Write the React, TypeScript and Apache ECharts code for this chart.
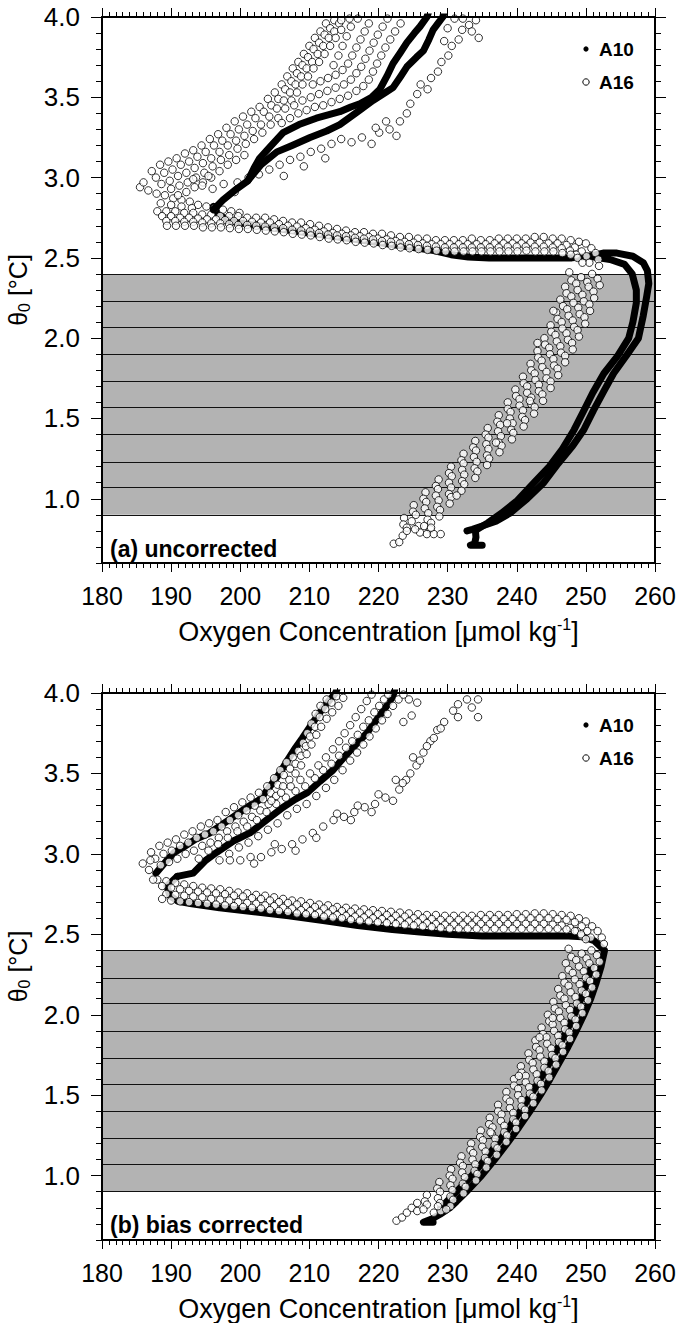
import React, { useEffect, useRef } from 'react';
import * as echarts from 'echarts';

// ---------- axes / layout values ----------
const X_MIN = 180;
const X_MAX = 260;
const X_STEP = 10;
const Y_MIN = 0.6;
const Y_MAX = 4.0;
const Y_MAJOR = [1.0, 1.5, 2.0, 2.5, 3.0, 3.5, 4.0];
const BAND = [0.9, 2.4];
const BAND_LINES = [0.9, 1.067, 1.233, 1.4, 1.567, 1.733, 1.9, 2.067, 2.233, 2.4];
const PANEL_LABELS = ['(a) uncorrected', '(b) bias corrected'];
const LEGEND_NAMES = ['A10', 'A16'];

// ---------- panel (a) uncorrected : A10 (filled dots, dense -> thick trace) ----------
const A10_A_UP1 = [[196.1,2.80],[197.5,2.86],[199.5,2.93],[201.1,2.98],[202.0,3.06],[202.8,3.12],[204.5,3.20],[206.2,3.28],[208.5,3.33],[211.0,3.37],[214.4,3.41],[216.0,3.44],[217.3,3.46],[219.0,3.50],[220.2,3.55],[221.2,3.63],[222.1,3.71],[223.2,3.78],[224.1,3.84],[225.2,3.90],[226.0,3.94],[227.0,4.00],[227.4,4.05]];
const A10_A_UP2 = [[201.1,2.98],[203.0,3.08],[205.3,3.16],[207.5,3.20],[210.1,3.25],[212.5,3.29],[214.4,3.33],[216.0,3.38],[217.3,3.42],[219.2,3.48],[221.0,3.53],[222.1,3.56],[223.2,3.63],[224.1,3.69],[225.5,3.75],[226.5,3.79],[227.3,3.86],[227.9,3.92],[228.6,3.96],[229.3,4.00],[229.6,4.05]];
const A10_A_MAIN = [[196.1,2.82],[196.8,2.77],[198.5,2.73],[201.0,2.71],[205.0,2.685],[210.0,2.655],[215.0,2.625],[220.0,2.595],[225.0,2.565],[228.0,2.545],[230.5,2.52],[233.0,2.505],[236.0,2.50],[240.0,2.50],[244.4,2.50],[248.0,2.50],[250.5,2.51],[252.5,2.53],[254.5,2.53],[256.8,2.51],[258.3,2.47],[258.9,2.42],[259.1,2.34],[258.8,2.26],[258.3,2.14],[257.6,2.00],[256.0,1.90],[254.0,1.78],[252.6,1.67],[251.1,1.55],[249.7,1.43],[248.1,1.33],[246.0,1.22],[243.9,1.10],[241.5,1.00],[239.0,0.91],[237.0,0.86],[235.0,0.83],[233.6,0.81],[232.8,0.80]];
const A10_A_INNER = [[250.5,2.51],[253.5,2.49],[255.6,2.46],[256.7,2.40],[257.3,2.30],[257.3,2.22],[256.8,2.10],[256.2,2.00],[254.6,1.89],[252.6,1.78],[251.0,1.66],[249.6,1.54],[248.3,1.43],[246.6,1.31],[244.7,1.20],[242.5,1.10],[240.1,0.99],[237.8,0.91],[235.8,0.85],[234.3,0.81]];
const A10_A_HOOK = [[234.0,0.81],[234.1,0.76],[233.9,0.72],[233.3,0.71],[235.0,0.71]];

// ---------- panel (a) : A16 (open circles) ----------
const A16_A_Z = [
  [185.5,2.94],[186.7,2.92],[187.9,2.90],[189.1,2.89],[190.3,2.87],[191.5,2.86],[192.7,2.85],[193.9,2.83],[195.1,2.82],[196.3,2.81],[197.5,2.80],[198.7,2.79],[199.9,2.78],[188.5,2.84],[190.0,2.83],[191.5,2.82],[193.0,2.81],
  [188.0,2.79],[189.3,2.79],[190.6,2.79],[191.9,2.78],[193.2,2.78],[194.5,2.77],[195.8,2.77],[197.1,2.76],[198.4,2.76],[199.7,2.76],[201.0,2.75],[202.3,2.75],[203.6,2.75],[204.9,2.74],[206.2,2.73],[207.5,2.72],[208.8,2.72],[210.1,2.71],[211.4,2.70],[212.7,2.69],[214.0,2.68],[215.3,2.67],[216.6,2.66],[217.9,2.66],[219.2,2.65],[220.5,2.65],[221.8,2.64],[223.1,2.63],[224.4,2.63],[225.7,2.62],[227.0,2.62],[228.3,2.61],[229.6,2.61],[230.9,2.61],[232.2,2.61],[233.5,2.62],[234.8,2.61],[236.1,2.61],[237.4,2.62],[238.7,2.62],[240.0,2.62],[241.3,2.62],[242.6,2.63],[243.9,2.63],[245.2,2.62],[246.5,2.62],[247.8,2.61],[249.0,2.60],[250.0,2.59],[250.8,2.56],[251.4,2.53],[251.8,2.49],[251.9,2.45],
  [188.7,2.76],[190.0,2.76],[191.3,2.75],[192.6,2.75],[193.9,2.745],[195.2,2.74],[196.5,2.74],[197.8,2.735],[199.1,2.73],[200.4,2.73],[201.7,2.725],[203.0,2.72],[204.3,2.72],[205.6,2.71],[206.9,2.70],[208.2,2.695],[209.5,2.685],[210.8,2.675],[212.1,2.665],[213.4,2.655],[214.7,2.65],[216.0,2.64],[217.3,2.635],[218.6,2.63],[219.9,2.62],[221.2,2.615],[222.5,2.605],[223.8,2.60],[225.1,2.595],[226.4,2.59],[227.7,2.585],[229.0,2.585],[230.3,2.585],[231.6,2.585],[232.9,2.585],[234.2,2.585],[235.5,2.585],[236.8,2.59],[238.1,2.59],[239.4,2.59],[240.7,2.59],[242.0,2.595],[243.3,2.595],[244.6,2.59],[245.9,2.59],[247.2,2.58],[248.4,2.565],[249.4,2.54],[250.1,2.51],[250.5,2.47],
  [189.3,2.73],[190.6,2.73],[191.9,2.725],[193.2,2.725],[194.5,2.72],[195.8,2.715],[197.1,2.715],[198.4,2.71],[199.7,2.705],[201.0,2.705],[202.3,2.70],[203.6,2.695],[204.9,2.69],[206.2,2.685],[207.5,2.675],[208.8,2.67],[210.1,2.665],[211.4,2.655],[212.7,2.645],[214.0,2.64],[215.3,2.635],[216.6,2.625],[217.9,2.62],[219.2,2.615],[220.5,2.605],[221.8,2.60],[223.1,2.59],[224.4,2.585],[225.7,2.58],[227.0,2.575],[228.3,2.57],[229.6,2.565],[230.9,2.565],[232.2,2.565],[233.5,2.565],[234.8,2.565],[236.1,2.565],[237.4,2.565],[238.7,2.57],[240.0,2.57],[241.3,2.57],[242.6,2.57],[243.9,2.57],[245.2,2.565],[246.5,2.56],[247.7,2.545],[248.6,2.52],
  [189.4,2.70],[190.7,2.70],[192.0,2.70],[193.3,2.70],[194.6,2.69],[195.9,2.69],[197.2,2.69],[198.5,2.685],[199.8,2.68],[201.1,2.68],[202.4,2.675],[203.7,2.67],[205.0,2.665],[206.3,2.66],[207.6,2.65],[208.9,2.645],[210.2,2.64],[211.5,2.63],[212.8,2.62],[214.1,2.615],[215.4,2.61],[216.7,2.60],[218.0,2.595],[219.3,2.59],[220.6,2.58],[221.9,2.575],[223.2,2.565],[224.5,2.56],[225.8,2.555],[227.1,2.55],[228.4,2.545],[229.7,2.54],[231.0,2.54],[232.3,2.54],[233.6,2.54],[234.9,2.54],[236.2,2.54],[237.5,2.54],[238.8,2.54],[240.1,2.54],[241.4,2.545],[242.7,2.54],[244.0,2.54],[245.3,2.54],[246.6,2.53],[247.8,2.52],[248.8,2.50],[249.5,2.47]
];
const A16_A_DESC = [
  [247.6,2.41],[250.9,2.40],[249.3,2.38],[251.7,2.37],[247.9,2.36],[250.2,2.35],[248.6,2.34],[252.0,2.33],
  [247.0,2.32],[250.4,2.32],[248.8,2.30],[251.1,2.29],[247.2,2.28],[249.5,2.27],[247.9,2.26],[251.2,2.25],
  [246.3,2.24],[249.7,2.23],[248.2,2.22],[250.5,2.21],[246.7,2.20],[248.9,2.19],[247.3,2.18],[250.6,2.17],
  [245.7,2.16],[249.1,2.15],[247.5,2.14],[249.8,2.13],[245.9,2.12],[248.1,2.11],[246.5,2.10],[249.9,2.09],
  [244.9,2.08],[248.3,2.07],[246.6,2.06],[248.8,2.05],[245.0,2.04],[247.2,2.03],[245.6,2.02],[249.0,2.01],
  [244.0,2.00],[247.4,1.99],[245.8,1.98],[248.0,1.97],[244.1,1.96],[246.3,1.95],[244.7,1.94],[248.1,1.93],
  [243.0,1.92],[246.4,1.91],[244.8,1.90],[247.0,1.89],[243.1,1.88],[245.3,1.87],[243.6,1.86],[247.0,1.85],
  [242.0,1.84],[245.4,1.83],[243.7,1.82],[245.9,1.81],[242.1,1.80],[244.3,1.79],[242.6,1.78],[246.0,1.77],
  [240.9,1.76],[244.3,1.75],[242.7,1.74],[244.9,1.73],[241.0,1.72],[243.2,1.71],[241.5,1.70],[244.9,1.69],
  [239.8,1.68],[243.2,1.67],[241.5,1.66],[243.7,1.65],[239.9,1.64],[242.1,1.63],[240.4,1.62],[243.8,1.61],
  [238.7,1.60],[242.1,1.59],[240.4,1.58],[242.6,1.57],[238.7,1.56],[240.9,1.55],[239.1,1.54],[242.5,1.53],
  [237.4,1.52],[240.8,1.51],[239.0,1.50],[241.2,1.49],[237.2,1.48],[239.4,1.47],[237.6,1.46],[241.0,1.45],
  [235.8,1.44],[239.2,1.43],[237.3,1.42],[239.5,1.41],[235.5,1.40],[237.7,1.39],[235.9,1.38],[239.3,1.37],
  [234.0,1.36],[237.4,1.35],[235.6,1.34],[237.8,1.33],[233.7,1.32],[235.9,1.31],[234.1,1.30],[237.5,1.29],
  [232.3,1.28],[235.7,1.27],[233.8,1.26],[236.0,1.25],[232.0,1.24],[234.2,1.23],[232.3,1.22],[235.7,1.21],
  [230.5,1.20],[233.9,1.19],[232.1,1.18],[234.3,1.17],[230.2,1.16],[232.4,1.15],[230.6,1.14],[234.0,1.13],
  [228.7,1.12],[232.1,1.11],[230.2,1.10],[232.4,1.09],[228.3,1.08],[230.5,1.07],[228.6,1.06],[232.0,1.05],
  [226.8,1.04],[230.2,1.03],[228.3,1.02],[230.5,1.01],[226.5,1.00],[228.7,0.99],[226.9,0.98],[230.3,0.97],
  [225.1,0.96],[228.5,0.95],[226.7,0.94],[228.9,0.93],[225.0,0.92],[227.2,0.91],[225.4,0.90],[228.8,0.89],
  [223.7,0.88],[227.1,0.87],[224.8,0.86],[227.6,0.85],[223.6,0.84],[225.8,0.83],[224.1,0.82],[227.5,0.81],
  [245.3,2.17],[241.9,1.61],[243.0,1.97],[238.6,1.47],[231.3,1.02],[237.0,1.35],
  [222.2,0.72],[223.0,0.73],[223.5,0.77],[224.1,0.80],[226.0,0.79],[227.0,0.78],[228.0,0.78],[229.0,0.78],[226.6,0.83],[227.6,0.82],[225.3,0.81]
];
const A16_A_LEFT = [
  [186.0,2.97],[187.2,3.04],[188.4,3.08],[189.6,3.10],[190.8,3.12],[192.0,3.15],[193.2,3.17],[194.4,3.20],[195.6,3.24],[196.8,3.27],[198.0,3.31],[199.2,3.35],[200.4,3.38],[201.6,3.41],[202.8,3.44],[204.0,3.49],[205.0,3.53],[206.0,3.58],[206.8,3.63],[207.6,3.68],[208.4,3.72],[209.2,3.77],[210.0,3.82],[210.8,3.87],[211.6,3.91],[212.4,3.96],
  [187.8,3.00],[189.0,3.03],[190.2,3.05],[191.4,3.08],[192.6,3.10],[193.8,3.13],[195.0,3.16],[196.2,3.20],[197.4,3.23],[198.6,3.27],[199.8,3.30],[201.0,3.33],[202.2,3.37],[203.4,3.41],[204.5,3.45],[205.5,3.49],[206.5,3.55],[207.4,3.60],[208.2,3.65],[209.0,3.70],[209.8,3.75],[210.6,3.80],[211.4,3.84],[212.2,3.89],[213.0,3.93],[213.6,3.98],
  [188.6,2.96],[189.8,2.98],[191.0,3.01],[192.2,3.03],[193.4,3.06],[194.6,3.09],[195.8,3.12],[197.0,3.16],[198.2,3.20],[199.4,3.23],[200.6,3.26],[201.8,3.29],[203.0,3.33],[204.2,3.38],[205.3,3.43],[206.3,3.48],[207.2,3.53],[208.0,3.58],[208.8,3.63],[209.6,3.68],[210.4,3.72],[211.2,3.77],[212.0,3.82],[212.8,3.87],[213.6,3.91],[214.3,3.96],
  [190.0,2.93],[191.2,2.95],[192.4,2.97],[193.6,3.00],[194.8,3.03],[196.0,3.07],[197.2,3.11],[198.4,3.14],[199.6,3.18],[200.8,3.21],[202.0,3.24],[203.2,3.28],[204.4,3.33],[205.5,3.37],[206.5,3.43],[207.4,3.48],[208.2,3.53],[209.0,3.58],[209.8,3.63],[210.6,3.68],[211.4,3.72],[212.2,3.77],[213.0,3.82],[213.8,3.87],[214.6,3.92],
  [191.0,2.89],[192.2,2.91],[193.4,2.94],[194.6,2.97],[195.8,3.00],[197.0,3.04],[198.2,3.08],[199.4,3.11],[200.6,3.14]
];
const A16_A_MID = [
  [206.0,3.34],[207.2,3.37],[208.4,3.40],[209.6,3.42],[210.8,3.44],[212.0,3.45],[213.2,3.47],[214.4,3.49],[215.6,3.51],[216.8,3.54],[217.8,3.57],[218.6,3.61],[219.2,3.66],[219.8,3.71],[220.4,3.76],[221.0,3.81],[221.7,3.86],[222.4,3.91],[223.2,3.96],
  [207.8,3.45],[209.0,3.48],[210.2,3.50],[211.4,3.52],[212.6,3.54],[213.8,3.56],[215.0,3.58],[216.0,3.61],[216.8,3.65],[217.5,3.69],[218.1,3.74],[218.7,3.79],[219.3,3.84],[219.9,3.89],[220.6,3.94],[221.3,3.99],
  [210.5,3.58],[211.6,3.60],[212.7,3.62],[213.8,3.64],[214.8,3.67],[215.6,3.71],[216.2,3.76],[216.8,3.81],[217.4,3.86],[218.0,3.91],[218.6,3.96],
  [214.2,3.76],[214.8,3.82],[215.4,3.88],[216.0,3.94],[214.6,3.98],[215.8,3.99],[213.5,3.70],[217.0,3.99]
];
const A16_A_RIGHT = [
  [194.5,2.95],[196.0,2.93],[197.6,2.96],[199.2,2.91],[193.2,2.99],[195.4,3.01],
  [199.6,2.97],[201.2,3.00],[202.7,3.02],[204.2,3.05],[205.7,3.08],[207.2,3.11],[208.7,3.13],[210.2,3.16],[211.7,3.18],[213.2,3.21],[214.6,3.24],[206.3,3.01],[209.2,3.07],[212.3,3.12],
  [216.1,3.22],[217.6,3.25],[219.0,3.21],[220.1,3.28],[221.6,3.30],[222.6,3.26],[223.1,3.35],[224.1,3.40],[224.6,3.46],[225.6,3.52],[226.1,3.58],[227.1,3.55],[227.6,3.62],[228.6,3.66],[229.1,3.72],[230.1,3.76],[230.6,3.82],[231.6,3.86],[232.1,3.92],[233.1,3.95],[234.1,3.98],[234.5,3.87],[233.5,3.91],[232.2,3.99],[221.1,3.35],[219.6,3.31],[231.0,3.99],[230.0,3.93],[229.5,3.85]
];

// ---------- panel (b) bias corrected : A10 ----------
const A10_B_L = [[187.8,2.88],[189.4,2.96],[190.5,3.01],[191.7,3.04],[193.5,3.09],[195.6,3.13],[197.3,3.18],[199.0,3.23],[201.0,3.29],[202.9,3.34],[204.5,3.43],[205.7,3.50],[206.8,3.58],[208.0,3.66],[209.0,3.72],[210.1,3.79],[211.2,3.86],[212.2,3.92],[213.0,3.96],[213.8,4.00],[214.2,4.05]];
const A10_B_M = [[190.9,2.86],[193.2,2.88],[195.0,2.96],[196.6,3.01],[199.0,3.08],[201.4,3.13],[203.8,3.21],[206.2,3.29],[208.0,3.34],[209.7,3.38],[211.5,3.45],[213.4,3.52],[215.0,3.60],[216.3,3.66],[217.4,3.71],[218.3,3.75],[219.5,3.82],[220.7,3.89],[221.5,3.94],[222.1,3.98],[222.5,4.05]];
const A10_B_MAIN = [[190.9,2.86],[189.4,2.80],[189.8,2.74],[191.0,2.705],[193.0,2.69],[197.0,2.665],[202.0,2.64],[207.0,2.615],[212.0,2.585],[217.0,2.555],[222.0,2.53],[226.0,2.515],[230.0,2.50],[235.0,2.49],[240.0,2.49],[245.0,2.49],[247.5,2.49],[249.5,2.485],[251.2,2.46],[252.7,2.40],[252.2,2.30],[251.5,2.20],[250.7,2.10],[249.7,2.00],[248.6,1.90],[247.4,1.80],[246.1,1.70],[244.8,1.60],[243.4,1.50],[241.9,1.40],[240.3,1.30],[238.6,1.20],[236.8,1.10],[234.9,1.00],[232.7,0.90],[231.3,0.84],[230.3,0.80],[228.9,0.76],[227.7,0.73],[226.5,0.71],[227.9,0.71]];
const A10_B_INNER = [[250.8,2.30],[250.1,2.20],[249.3,2.10],[248.3,2.00],[247.2,1.90],[246.0,1.80],[244.7,1.70],[243.4,1.60],[242.0,1.50],[240.5,1.40],[238.9,1.30],[237.2,1.20],[235.4,1.10],[233.5,1.00],[231.3,0.90],[229.9,0.84],[229.0,0.80]];

// ---------- panel (b) : A16 ----------
const A16_B_Z = [
  [188.0,2.84],[189.3,2.83],[190.6,2.82],[191.9,2.81],[193.2,2.80],[194.5,2.79],[195.8,2.785],[197.1,2.78],[198.4,2.77],[199.7,2.76],[201.0,2.755],[202.3,2.745],[203.6,2.74],[204.9,2.73],[206.2,2.72],[207.5,2.71],[208.8,2.705],[210.1,2.695],[211.4,2.685],[212.7,2.68],[214.0,2.67],[215.3,2.665],[216.6,2.66],[217.9,2.655],[219.2,2.65],[220.5,2.645],[221.8,2.64],[223.1,2.635],[224.4,2.63],[225.7,2.625],[227.0,2.62],[228.3,2.62],[229.6,2.615],[230.9,2.615],[232.2,2.615],[233.5,2.615],[234.8,2.62],[236.1,2.62],[237.4,2.62],[238.7,2.62],[240.0,2.625],[241.3,2.625],[242.6,2.63],[243.9,2.63],[245.2,2.625],[246.5,2.62],[247.8,2.615],[249.0,2.60],[250.0,2.58],[250.9,2.55],[251.7,2.52],[252.3,2.48],[252.6,2.44],
  [188.7,2.80],[190.0,2.79],[191.3,2.78],[192.6,2.77],[193.9,2.765],[195.2,2.76],[196.5,2.755],[197.8,2.75],[199.1,2.74],[200.4,2.735],[201.7,2.725],[203.0,2.72],[204.3,2.71],[205.6,2.70],[206.9,2.695],[208.2,2.685],[209.5,2.675],[210.8,2.67],[212.1,2.66],[213.4,2.655],[214.7,2.645],[216.0,2.64],[217.3,2.635],[218.6,2.63],[219.9,2.625],[221.2,2.62],[222.5,2.615],[223.8,2.61],[225.1,2.60],[226.4,2.60],[227.7,2.595],[229.0,2.59],[230.3,2.59],[231.6,2.59],[232.9,2.59],[234.2,2.59],[235.5,2.595],[236.8,2.595],[238.1,2.595],[239.4,2.595],[240.7,2.60],[242.0,2.60],[243.3,2.60],[244.6,2.60],[245.9,2.595],[247.2,2.59],[248.4,2.575],[249.4,2.55],[250.2,2.52],[250.7,2.48],
  [189.3,2.75],[190.6,2.745],[191.9,2.74],[193.2,2.735],[194.5,2.73],[195.8,2.72],[197.1,2.715],[198.4,2.71],[199.7,2.70],[201.0,2.695],[202.3,2.69],[203.6,2.68],[204.9,2.675],[206.2,2.665],[207.5,2.66],[208.8,2.65],[210.1,2.645],[211.4,2.635],[212.7,2.63],[214.0,2.62],[215.3,2.615],[216.6,2.61],[217.9,2.605],[219.2,2.60],[220.5,2.595],[221.8,2.59],[223.1,2.585],[224.4,2.58],[225.7,2.575],[227.0,2.57],[228.3,2.565],[229.6,2.56],[230.9,2.56],[232.2,2.56],[233.5,2.56],[234.8,2.565],[236.1,2.565],[237.4,2.565],[238.7,2.565],[240.0,2.565],[241.3,2.565],[242.6,2.565],[243.9,2.565],[245.2,2.56],[246.5,2.555],[247.7,2.54],[248.7,2.52],[249.4,2.49],
  [188.7,2.72],[190.0,2.71],[191.3,2.705],[192.6,2.70],[193.9,2.695],[195.2,2.69],[196.5,2.685],[197.8,2.68],[199.1,2.675],[200.4,2.67],[201.7,2.665],[203.0,2.66],[204.3,2.65],[205.6,2.645],[206.9,2.64],[208.2,2.63],[209.5,2.625],[210.8,2.62],[212.1,2.61],[213.4,2.605],[214.7,2.60],[216.0,2.59],[217.3,2.585],[218.6,2.58],[219.9,2.575],[221.2,2.57],[222.5,2.565],[223.8,2.56],[225.1,2.555],[226.4,2.55],[227.7,2.545],[229.0,2.54],[230.3,2.535],[231.6,2.535],[232.9,2.535],[234.2,2.535],[235.5,2.535],[236.8,2.535],[238.1,2.535],[239.4,2.535],[240.7,2.535],[242.0,2.535],[243.3,2.535],[244.6,2.535],[245.9,2.535],[247.2,2.53],[248.4,2.52],[249.3,2.50],[250.0,2.47]
];
const A16_B_DESC = [
  [247.5,2.41],[250.8,2.40],[249.4,2.38],[251.6,2.37],[247.9,2.36],[250.1,2.35],[248.6,2.34],[252.0,2.33],
  [247.1,2.32],[250.5,2.32],[249.0,2.30],[251.2,2.29],[247.5,2.28],[249.7,2.27],[248.1,2.26],[251.5,2.25],
  [246.6,2.24],[250.0,2.23],[248.4,2.22],[250.6,2.21],[246.9,2.20],[249.1,2.19],[247.5,2.18],[250.9,2.17],
  [246.0,2.16],[249.4,2.15],[247.8,2.14],[250.0,2.13],[246.3,2.12],[248.5,2.11],[246.9,2.10],[250.3,2.09],
  [245.3,2.08],[248.7,2.07],[247.1,2.06],[249.3,2.05],[245.5,2.04],[247.7,2.03],[246.1,2.02],[249.5,2.01],
  [244.5,2.00],[247.9,1.99],[246.3,1.98],[248.5,1.97],[244.7,1.96],[246.9,1.95],[245.2,1.94],[248.6,1.93],
  [243.6,1.92],[247.0,1.91],[245.4,1.90],[247.6,1.89],[243.8,1.88],[246.0,1.87],[244.3,1.86],[247.7,1.85],
  [242.7,1.84],[246.1,1.83],[244.4,1.82],[246.6,1.81],[242.8,1.80],[245.0,1.79],[243.3,1.78],[246.7,1.77],
  [241.7,1.76],[245.1,1.75],[243.4,1.74],[245.6,1.73],[241.8,1.72],[244.0,1.71],[242.3,1.70],[245.7,1.69],
  [240.6,1.68],[244.0,1.67],[242.4,1.66],[244.6,1.65],[240.7,1.64],[242.9,1.63],[241.3,1.62],[244.7,1.61],
  [239.6,1.60],[243.0,1.59],[241.3,1.58],[243.5,1.57],[239.6,1.56],[241.8,1.55],[240.2,1.54],[243.6,1.53],
  [238.5,1.52],[241.9,1.51],[240.2,1.50],[242.4,1.49],[238.5,1.48],[240.7,1.47],[239.0,1.46],[242.4,1.45],
  [237.3,1.44],[240.7,1.43],[239.0,1.42],[241.2,1.41],[237.3,1.40],[239.5,1.39],[237.8,1.38],[241.2,1.37],
  [236.1,1.36],[239.5,1.35],[237.7,1.34],[239.9,1.33],[236.0,1.32],[238.2,1.31],[236.5,1.30],[239.9,1.29],
  [234.8,1.28],[238.2,1.27],[236.4,1.26],[238.6,1.25],[234.7,1.24],[236.9,1.23],[235.1,1.22],[238.5,1.21],
  [233.4,1.20],[236.8,1.19],[235.0,1.18],[237.2,1.17],[233.3,1.16],[235.5,1.15],[233.7,1.14],[237.1,1.13],
  [232.0,1.12],[235.4,1.11],[233.6,1.10],[235.8,1.09],[231.8,1.08],[234.0,1.07],[232.2,1.06],[235.6,1.05],
  [230.5,1.04],[233.9,1.03],[232.1,1.02],[234.3,1.01],[230.3,1.00],[232.5,0.99],[230.7,0.98],[234.1,0.97],
  [228.8,0.96],[232.2,0.95],[230.4,0.94],[232.6,0.93],[228.5,0.92],[230.7,0.91],[228.9,0.90],[232.3,0.89],
  [227.0,0.88],[230.4,0.87],[228.6,0.86],[230.8,0.85],[226.7,0.84],[228.9,0.83],[227.0,0.82],[230.4,0.81],
  [245.2,1.98],[240.3,1.62],[236.2,1.27],[243.3,1.86],
  [222.6,0.72],[223.4,0.74],[224.1,0.77],[224.8,0.80],[225.6,0.78],[228.0,0.77],[229.0,0.78],[229.8,0.79],[228.6,0.81],[226.5,0.79],[225.6,0.83]
];
const A16_B_LEFT = [
  [185.9,2.94],[187.1,3.01],[188.3,3.05],[189.5,3.07],[190.7,3.09],[191.9,3.12],[193.1,3.14],[194.3,3.17],[195.5,3.19],[196.7,3.21],[197.9,3.26],[199.1,3.29],[200.3,3.32],[201.5,3.35],[202.7,3.38],[203.9,3.42],[204.9,3.47],[205.8,3.52],[206.7,3.57],[207.6,3.60],[208.4,3.64],[209.1,3.69],[209.7,3.75],[210.3,3.81],[210.9,3.87],[211.6,3.92],[212.5,3.96],
  [187.7,2.97],[188.9,3.00],[190.1,3.02],[191.3,3.05],[192.5,3.07],[193.7,3.10],[194.9,3.12],[196.1,3.14],[197.3,3.17],[198.5,3.21],[199.7,3.24],[200.9,3.27],[202.1,3.30],[203.3,3.34],[204.4,3.38],[205.4,3.43],[206.3,3.49],[207.2,3.53],[208.0,3.56],[208.8,3.61],[209.5,3.67],[210.1,3.73],[210.8,3.79],[211.5,3.85],[212.3,3.90],[213.2,3.94],[213.9,3.98],
  [188.5,2.93],[189.7,2.95],[190.9,2.97],[192.1,3.00],[193.3,3.02],[194.5,3.05],[195.7,3.07],[196.9,3.10],[198.1,3.14],[199.3,3.17],[200.5,3.20],[201.7,3.23],[202.9,3.27],[204.1,3.31],[205.2,3.36],[206.2,3.42],[207.1,3.46],[208.0,3.50],[208.8,3.55],[209.6,3.62],[210.3,3.68],[211.0,3.74],[211.7,3.79],[212.5,3.84],[213.3,3.88],[214.2,3.92],[214.9,3.97],
  [186.8,2.90],[187.4,2.84],[187.0,2.96]
];
const A16_B_MID = [
  [194.0,2.97],[195.4,3.02],[196.8,3.06],[198.2,3.10],[199.6,3.14],[201.0,3.17],[202.4,3.21],[203.8,3.26],[205.2,3.31],[206.6,3.35],[208.0,3.39],[209.4,3.42],[210.8,3.47],[212.0,3.52],[213.2,3.56],[214.3,3.61],[215.3,3.66],[216.2,3.70],[217.0,3.74],[217.8,3.79],[218.6,3.83],[219.4,3.88],[220.1,3.92],[220.8,3.96],[221.4,3.99],
  [197.0,2.96],[198.4,3.00],[199.8,3.04],[201.2,3.07],[202.6,3.11],[204.0,3.15],[205.4,3.19],[206.8,3.24],[208.2,3.28],[209.6,3.31],[211.0,3.36],[212.4,3.41],[213.6,3.46],[214.8,3.52],[215.9,3.58],[216.9,3.63],[217.8,3.68],[218.7,3.73],[219.6,3.78],[220.5,3.83],[221.3,3.87],[222.1,3.92],[222.9,3.96],[223.6,3.99],
  [204.5,3.33],[205.9,3.38],[207.3,3.42],[208.7,3.46],[210.1,3.50],[211.3,3.55],[212.4,3.60],[213.4,3.65],[214.3,3.70],[215.1,3.75],[215.9,3.80],[216.7,3.85],[217.5,3.90],[218.3,3.95],[219.0,3.99],
  [224.4,3.96],[225.6,3.94],[224.8,3.86],[223.6,3.82]
];
const A16_B_RIGHT = [
  [198.5,2.96],[200.0,2.96],[201.5,2.98],[203.0,2.98],[204.5,3.01],[206.0,3.03],[207.5,3.06],[209.0,3.09],[210.5,3.13],[212.0,3.17],[213.5,3.21],[215.0,3.23],[216.5,3.26],[218.0,3.29],[219.5,3.31],[221.0,3.35],[222.1,3.33],[223.0,3.40],[224.0,3.46],[224.6,3.50],[225.5,3.55],[226.5,3.63],[227.5,3.70],[228.5,3.77],[229.5,3.82],[230.8,3.89],[231.5,3.93],[232.8,3.96],[234.4,3.96],[234.4,3.85],[233.5,3.91],[226.0,3.58],[228.0,3.72],[223.5,3.44],[220.0,3.37],[217.0,3.30],[214.0,3.25],[202.0,2.94],[205.0,3.06],[211.0,3.10],[208.0,3.02],[216.0,3.21],[219.0,3.26],[222.5,3.46],[225.0,3.60],[227.0,3.67],[229.0,3.78],[231.5,3.85]
];

// ---------- styling ----------
const FONT = '"Liberation Sans", Arial, Helvetica, sans-serif';
const BLACK = '#000';
const GRAY = '#b3b3b3';
const GRIDS = [
  { left: 102, top: 17, width: 553, height: 546 },
  { left: 102, top: 693, width: 553, height: 547 },
];

function a16(data: number[][], xi: number, yi: number) {
  return {
    type: 'scatter', name: 'A16', xAxisIndex: xi, yAxisIndex: yi, data,
    symbol: 'circle', symbolSize: 7.5, silent: true, z: 10,
    itemStyle: { color: '#fff', borderColor: BLACK, borderWidth: 1 },
  };
}
function a10(data: number[][], xi: number, yi: number, z = 9, extra: any = {}) {
  return {
    type: 'line', name: 'A10', xAxisIndex: xi, yAxisIndex: yi, data,
    symbol: 'none', showSymbol: false, silent: true, z,
    lineStyle: { color: BLACK, width: 7, cap: 'round', join: 'round' },
    ...extra,
  };
}
function bandMarkers() {
  return {
    markArea: {
      silent: true, label: { show: false }, itemStyle: { color: GRAY },
      data: [[{ xAxis: X_MIN, yAxis: BAND[0] }, { xAxis: X_MAX, yAxis: BAND[1] }]],
    },
    markLine: {
      silent: true, symbol: ['none', 'none'], label: { show: false },
      lineStyle: { color: '#111', width: 1, type: 'solid' },
      data: BAND_LINES.map((v) => ({ yAxis: v })),
    },
  };
}

function xAxes(g: number) {
  const common = {
    type: 'value', gridIndex: g, min: X_MIN, max: X_MAX, interval: X_STEP, z: 20,
    axisLine: { show: true, onZero: false, lineStyle: { color: BLACK, width: 2 } },
    axisTick: { show: true, length: 9, lineStyle: { color: BLACK, width: 1 } },
    minorTick: { show: true, splitNumber: 10, length: 5, lineStyle: { color: BLACK, width: 1 } },
    splitLine: { show: false }, minorSplitLine: { show: false },
  };
  return [
    {
      ...common, position: 'bottom',
      axisLabel: { show: true, fontSize: 25, color: BLACK, fontFamily: FONT, margin: 20 },
      name: '{a|Oxygen Concentration [μmol kg}{s|-1}{a|]}',
      nameLocation: 'middle', nameGap: 53,
      nameTextStyle: {
        rich: {
          a: { fontSize: 27, color: BLACK, fontFamily: FONT, lineHeight: 32 },
          s: { fontSize: 16, color: BLACK, fontFamily: FONT, lineHeight: 16, verticalAlign: 'top' },
        },
      },
    },
    { ...common, position: 'top', axisLabel: { show: false } },
  ];
}
function yAxes(g: number) {
  const major = {
    type: 'value', gridIndex: g, min: Y_MIN, max: Y_MAX, z: 20,
    axisLine: { show: true, onZero: false, lineStyle: { color: BLACK, width: 2 } },
    axisTick: { show: true, customValues: Y_MAJOR, length: 11, lineStyle: { color: BLACK, width: 1 } },
    splitLine: { show: false },
  };
  const minor = {
    type: 'value', gridIndex: g, min: Y_MIN, max: Y_MAX, interval: 0.1, z: 20,
    axisLine: { show: false, onZero: false },
    axisTick: { show: true, length: 6, lineStyle: { color: BLACK, width: 1 } },
    axisLabel: { show: false }, splitLine: { show: false },
  };
  return [
    {
      ...major, position: 'left',
      axisLabel: {
        show: true, customValues: Y_MAJOR, fontSize: 26, color: BLACK, fontFamily: FONT, margin: 22,
        formatter: (v: number) => v.toFixed(1),
      },
      name: '{t|θ}{s|0}{t| [°C]}', nameLocation: 'middle', nameRotate: 90, nameGap: 63,
      nameTextStyle: {
        rich: {
          t: { fontSize: 25, color: BLACK, fontFamily: FONT, lineHeight: 30 },
          s: { fontSize: 16, color: BLACK, fontFamily: FONT, lineHeight: 16, verticalAlign: 'bottom' },
        },
      },
    },
    { ...minor, position: 'left' },
    { ...major, position: 'right', axisLabel: { show: false } },
    { ...minor, position: 'right' },
  ];
}

function legendGraphics(top: number) {
  const font = `bold 19px ${FONT}`;
  return [
    { type: 'circle', z: 30, shape: { cx: 586, cy: top, r: 2.6 }, style: { fill: BLACK } },
    { type: 'text', z: 30, x: 599, y: top, style: { text: LEGEND_NAMES[0], font, fill: BLACK, verticalAlign: 'middle', textVerticalAlign: 'middle' } },
    { type: 'circle', z: 30, shape: { cx: 586, cy: top + 33, r: 3.2 }, style: { fill: '#fff', stroke: BLACK, lineWidth: 1 } },
    { type: 'text', z: 30, x: 599, y: top + 33, style: { text: LEGEND_NAMES[1], font, fill: BLACK, verticalAlign: 'middle', textVerticalAlign: 'middle' } },
  ];
}

function buildOption() {
  const labelFont = `bold 23px ${FONT}`;
  return {
    animation: false,
    backgroundColor: '#fff',
    textStyle: { fontFamily: FONT },
    grid: GRIDS.map((g) => ({ ...g, containLabel: false, outerBoundsMode: 'none', show: false })),
    xAxis: [...xAxes(0), ...xAxes(1)],
    yAxis: [...yAxes(0), ...yAxes(1)],
    series: [
      // panel (a)
      a10(A10_A_MAIN, 0, 0, 9, bandMarkers()),
      a10(A10_A_INNER, 0, 0),
      a10(A10_A_HOOK, 0, 0),
      a16(A16_A_Z, 0, 0),
      a16(A16_A_DESC, 0, 0),
      a16(A16_A_LEFT, 0, 0),
      a16(A16_A_MID, 0, 0),
      a16(A16_A_RIGHT, 0, 0),
      a10(A10_A_UP1, 0, 0, 11),
      a10(A10_A_UP2, 0, 0, 11),
      // panel (b)
      a10(A10_B_MAIN, 2, 4, 9, bandMarkers()),
      a10(A10_B_INNER, 2, 4),
      a10(A10_B_L, 2, 4),
      a10(A10_B_M, 2, 4),
      a16(A16_B_Z, 2, 4),
      a16(A16_B_DESC, 2, 4),
      a16(A16_B_LEFT, 2, 4),
      a16(A16_B_MID, 2, 4),
      a16(A16_B_RIGHT, 2, 4),
    ],
    graphic: [
      ...legendGraphics(49),
      ...legendGraphics(725),
      { type: 'text', z: 30, x: 110, y: 549, style: { text: PANEL_LABELS[0], font: labelFont, fill: BLACK, verticalAlign: 'middle', textVerticalAlign: 'middle' } },
      { type: 'text', z: 30, x: 110, y: 1225, style: { text: PANEL_LABELS[1], font: labelFont, fill: BLACK, verticalAlign: 'middle', textVerticalAlign: 'middle' } },
    ],
  };
}

export default function App() {
  const ref = useRef<HTMLDivElement>(null);
  useEffect(() => {
    if (!ref.current) return;
    const chart = echarts.init(ref.current, null, { renderer: 'svg' });
    chart.setOption(buildOption() as any);
    return () => chart.dispose();
  }, []);
  return (
    <div
      ref={ref}
      style={{ position: 'absolute', left: 0, top: 0, width: 681, height: 1323, background: '#fff' }}
    />
  );
}
